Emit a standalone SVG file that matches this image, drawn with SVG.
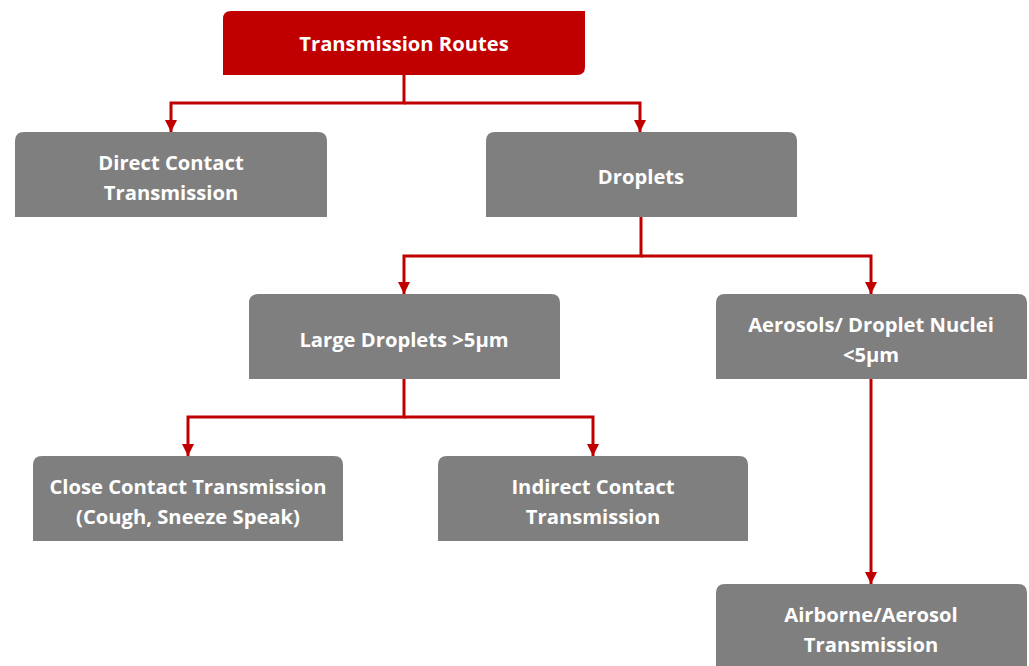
<svg xmlns="http://www.w3.org/2000/svg" width="1029" height="666" viewBox="0 0 1029 666">
<style>
.box{fill:#7F7F7F}
.top{fill:#C00000}
.t{font-family:"Open Sans","Liberation Sans",sans-serif;font-weight:700;font-size:20.2px;fill:#FFFFFF;text-anchor:middle}
.c{fill:none;stroke:#C00000;stroke-width:3}
</style>
<defs>
<marker id="ah" viewBox="0 0 10 10" refX="10" refY="5" markerWidth="4" markerHeight="4" markerUnits="strokeWidth" orient="auto">
<path d="M0,0 L10,5 L0,10 Z" fill="#C00000"/>
</marker>
</defs>
<rect width="1029" height="666" fill="#FFFFFF"/>
<g id="connectors">
<path class="c" d="M404,75 V103 H171 V132" marker-end="url(#ah)"/>
<path class="c" d="M404,103 H640 V132" marker-end="url(#ah)"/>
<path class="c" d="M641,217 V256 H404 V294" marker-end="url(#ah)"/>
<path class="c" d="M641,256 H871 V294" marker-end="url(#ah)"/>
<path class="c" d="M404,379 V417 H188 V456" marker-end="url(#ah)"/>
<path class="c" d="M404,417 H593 V456" marker-end="url(#ah)"/>
<path class="c" d="M871,379 V584" marker-end="url(#ah)"/>
</g>
<g id="n-root">
<path class="top" d="M231,11 H585 V67 Q585,75 577,75 H223 V19 Q223,11 231,11 Z"/>
<text class="t" x="404" y="51">Transmission Routes</text>
</g>
<g id="n-direct">
<path class="box" d="M15,217 V141 Q15,132 24,132 H318 Q327,132 327,141 V217 Z"/>
<text class="t" x="171" y="170">Direct Contact</text>
<text class="t" x="171" y="200">Transmission</text>
</g>
<g id="n-droplets">
<path class="box" d="M486,217 V141 Q486,132 495,132 H788 Q797,132 797,141 V217 Z"/>
<text class="t" x="641" y="184">Droplets</text>
</g>
<g id="n-large">
<path class="box" d="M249,379 V303 Q249,294 258,294 H551 Q560,294 560,303 V379 Z"/>
<text class="t" x="404" y="347">Large Droplets &gt;5µm</text>
</g>
<g id="n-aerosols">
<path class="box" d="M716,379 V303 Q716,294 725,294 H1018 Q1027,294 1027,303 V379 Z"/>
<text class="t" x="871" y="332">Aerosols/ Droplet Nuclei</text>
<text class="t" x="871" y="362">&lt;5µm</text>
</g>
<g id="n-close">
<path class="box" d="M33,541 V465 Q33,456 42,456 H334 Q343,456 343,465 V541 Z"/>
<text class="t" x="188" y="494">Close Contact Transmission</text>
<text class="t" x="188" y="524">(Cough, Sneeze Speak)</text>
</g>
<g id="n-indirect">
<path class="box" d="M438,541 V465 Q438,456 447,456 H739 Q748,456 748,465 V541 Z"/>
<text class="t" x="593" y="494">Indirect Contact</text>
<text class="t" x="593" y="524">Transmission</text>
</g>
<g id="n-airborne">
<path class="box" d="M716,670 V593 Q716,584 725,584 H1018 Q1027,584 1027,593 V670 Z"/>
<text class="t" x="871" y="622">Airborne/Aerosol</text>
<text class="t" x="871" y="652">Transmission</text>
</g>
</svg>
